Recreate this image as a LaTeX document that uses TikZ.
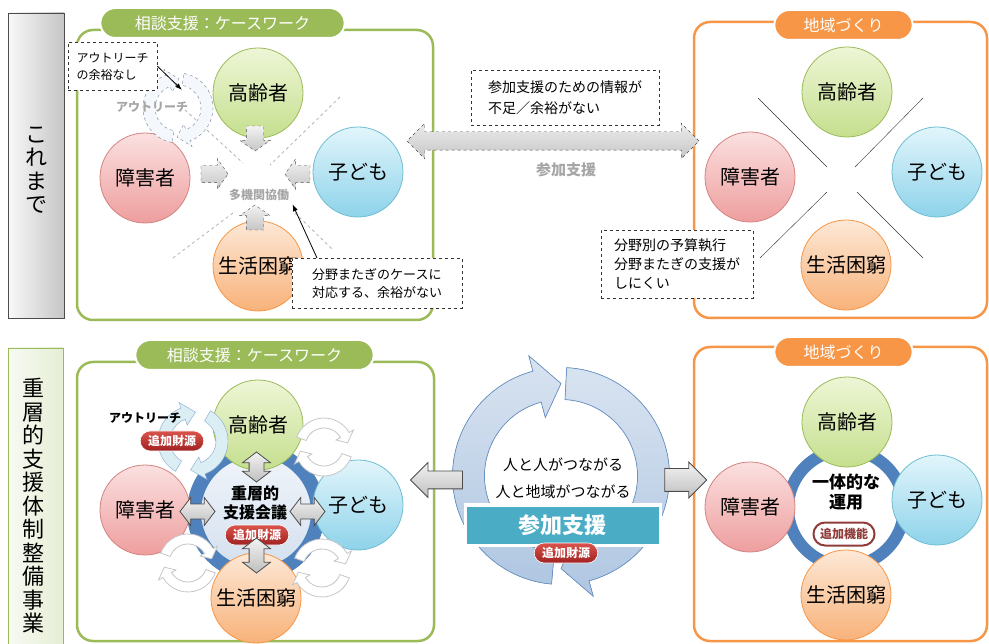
\documentclass[tikz,border=0pt]{standalone}
\usepackage{fontspec}
\setmainfont{Noto Sans CJK JP}
\usetikzlibrary{arrows.meta,shapes.arrows,shapes.misc,calc}
\definecolor{kgreen}{HTML}{9BBB59}
\definecolor{korange}{HTML}{F79646}
\definecolor{kblue}{HTML}{4F81BD}
\definecolor{kteal}{HTML}{4BACC6}
\definecolor{kred}{HTML}{C0504D}
\definecolor{eldertop}{HTML}{EEF6D6}
\definecolor{elderbot}{HTML}{C5DF8E}
\definecolor{distop}{HTML}{FBE0E0}
\definecolor{disbot}{HTML}{EE9E9E}
\definecolor{childtop}{HTML}{E2F5FB}
\definecolor{childbot}{HTML}{8ED3EA}
\definecolor{poortop}{HTML}{FDE8D6}
\definecolor{poorbot}{HTML}{F8B27A}
\definecolor{fundtop}{HTML}{D9534B}
\definecolor{fundbot}{HTML}{A02222}
\colorlet{darkred}{kred!75!black}
\newcommand{\fsz}[2]{\fontsize{#1}{#2}\selectfont}
% circular arrow: [style]{centre}{mid radius}{half width}{start}{end}{tip}
\newcommand{\carrow}[7][]{%
  \begin{scope}[shift={(#2)}]
    \filldraw[#1] ({#5}:{#3+#4}) arc[start angle=#5, end angle=#6, radius={#3+#4}]
      -- ({#6}:{#3+2*#4}) -- ({#7}:{#3}) -- ({#6}:{#3-2*#4}) -- ({#6}:{#3-#4})
      arc[start angle=#6, end angle=#5, radius={#3-#4}] -- cycle;
  \end{scope}}
\tikzset{
  >=latex,
  person/.style={circle, minimum size=90, inner sep=0, line width=0.8, font=\fsz{20}{22}},
  elder/.style={person, draw=kgreen, top color=eldertop, bottom color=elderbot},
  disabled/.style={person, draw=kred!70, top color=distop, bottom color=disbot},
  child/.style={person, draw=kteal!80, top color=childtop, bottom color=childbot},
  poor/.style={person, draw=korange, top color=poortop, bottom color=poorbot},
  panel/.style={draw=#1, line width=2.5, rounded corners=16},
  tab/.style={rounded rectangle, fill=#1, draw=white, line width=2, text=white, minimum height=30, font=\fsz{16}{18}},
  sidebox/.style={draw=#1, line width=0.8},
  sidetext/.style={align=center, font=\fsz{22}{23.5}},
  note/.style={draw=black!80, dashed, fill=white, align=left, anchor=north west, inner sep=5},
  pointer/.style={-{Latex[length=7,width=5]}, thick, black},
  hint/.style={text=gray!70, font=\bfseries\fsz{12}{14}},
  dasharrow/.style={single arrow, inner sep=0, inner ysep=8.5, single arrow head extend=6.5, single arrow tip angle=110,
    draw=black!70, dashed, top color=gray!10, bottom color=gray!45},
  flowarrow/.style={single arrow, inner sep=0, single arrow tip angle=90, draw=gray!60!black, line width=0.8,
    top color=gray!10, bottom color=gray!50},
  linkarrow/.style={double arrow, inner sep=0, inner ysep=7, double arrow head extend=6.5, double arrow tip angle=105,
    draw=gray!60!black, line width=0.8, top color=gray!10, bottom color=gray!50},
  fund/.style={rounded rectangle, top color=fundtop, bottom color=fundbot, draw=white, line width=0.6, text=white,
    font=\bfseries\fsz{12}{14}, minimum height=20, inner xsep=6, inner ysep=0},
  addtag/.style={rounded rectangle, fill=white, draw=darkred, line width=2, text=darkred,
    font=\bfseries\fsz{12}{14}, minimum height=23, inner xsep=5, inner ysep=0},
  refresh/.style={draw=gray!45, fill=white, line width=0.8},
  cycle arrow/.style={draw=kblue!85, line width=0.7, top color=kblue!22, bottom color=kblue!45}
}
\begin{document}
\begin{tikzpicture}[x=1pt, y=-1pt]
  \useasboundingbox (0,0) rectangle (989,644);

  % side labels
  \draw[sidebox=black!70, left color=gray!5, right color=gray!45] (8,13) rectangle (64,318);
  \node[sidetext] (past) at (36,170) {こ\\れ\\ま\\で};
  \draw[sidebox=kgreen, left color=kgreen!8, right color=kgreen!25] (8,348) rectangle (63,660);
  \node[sidetext] (project) at (34,506) {重\\層\\的\\支\\援\\体\\制\\整\\備\\事\\業};

  % panels
  \draw[panel=kgreen] (77,30) rectangle (433,320);
  \draw[panel=korange] (694,22) rectangle (987,318);
  \draw[panel=kgreen] (77,362) rectangle (434,641);
  \draw[panel=korange] (694,347) rectangle (987,641);
  \node[tab=kgreen, minimum width=251] (tl-tab) at (222.5,23) {相談支援：ケースワーク};
  \node[tab=korange, minimum width=145] (tr-tab) at (843.5,25) {地域づくり};
  \node[tab=kgreen, minimum width=245] (bl-tab) at (254.5,355) {相談支援：ケースワーク};
  \node[tab=korange, minimum width=145] (br-tab) at (843.5,352) {地域づくり};

  % top left: case work so far
  \draw[gray!60, dashed, thick] (185,110) -- (243,163) (295,213) -- (333,250)
    (340,97) -- (270,165) (233,213) -- (173,258);
  \node[elder] (tl-elder) at (258,93) {高齢者};
  \node[disabled] (tl-dis) at (145,178) {障害者};
  \node[child] (tl-child) at (358,172) {子ども};
  \node[poor] (tl-poor) at (258,266) {生活困窮};
  \carrow[draw=gray!70!kblue, dashed, fill=kblue!6]{178,108}{29}{6}{100}{250}{272}
  \carrow[draw=gray!70!kblue, dashed, fill=kblue!6]{178,108}{29}{6}{280}{430}{452}
  \node[dasharrow, rotate=-90, minimum height=25] (tl-a1) at (255,135.5) {};
  \node[dasharrow, minimum height=27] (tl-a2) at (211.5,174) {};
  \node[dasharrow, rotate=180, minimum height=25] (tl-a3) at (300.5,174) {};
  \node[dasharrow, rotate=90, minimum height=25] (tl-a4) at (255,220.5) {};
  \node[hint] (tl-mac) at (259,195) {多機関協働};
  \node[hint] (tl-reach) at (152,107) {アウトリーチ};
  \coordinate (tl-ring) at (182,90);
  \node[note, minimum width=89, minimum height=48, font=\fsz{12}{17}] (noteA) at (68,42) {アウトリーチ\\の余裕なし};
  \draw[pointer] (noteA.east) -- (tl-ring);
  \node[note, minimum width=170, minimum height=50, font=\fsz{13}{18}] (noteB) at (292,258) {分野またぎのケースに\\対応する、余裕がない};
  \draw[pointer] ($(noteB.north west)+(25,0)$) -- (tl-mac.south east);

  % top middle
  \node[double arrow, dashed, draw=black!70, top color=gray!15, bottom color=gray!45, inner sep=0, inner ysep=9,
    double arrow head extend=8.5, double arrow tip angle=90, minimum height=292] (tm-arrow) at (553,141) {};
  \node[hint, font=\bfseries\fsz{15}{17}] (tm-label) at (566,170) {参加支援};
  \node[note, minimum width=188, minimum height=55, font=\fsz{14}{21}] (noteC) at (471,70) {参加支援のための情報が\\不足／余裕がない};

  % top right: community so far
  \node[elder] (tr-elder) at (847,92) {高齢者};
  \node[disabled] (tr-dis) at (750,177) {障害者};
  \node[child] (tr-child) at (937,172) {子ども};
  \node[poor] (tr-poor) at (846,265) {生活困窮};
  \draw[black!80] (758,98) -- (827,167) (923,98) -- (855,167) (827,192) -- (760,258) (857,192) -- (923,258);
  \node[note, minimum width=152, minimum height=68, font=\fsz{14}{19}] (noteD) at (601,230) {分野別の予算執行\\分野またぎの支援が\\しにくい};

  % bottom left: layered support meeting
  \node[circle, draw=kblue, line width=14, top color=kblue!8, bottom color=kblue!25, minimum size=124] (bl-hub) at (256,512) {};
  \node[elder] (bl-elder) at (258,425) {高齢者};
  \node[disabled] (bl-dis) at (145,510) {障害者};
  \node[child] (bl-child) at (358,505) {子ども};
  \node[poor] (bl-poor) at (256,598) {生活困窮};
  \foreach \c in {{324,447},{188,563},{322,568}} {
    \carrow[refresh]{\c}{24}{5}{200}{330}{350}
    \carrow[refresh]{\c}{24}{5}{20}{150}{170}
  }
  \carrow[draw=kblue!70, fill=kteal!20]{193,441}{29}{6}{120}{250}{275}
  \carrow[draw=kblue!70, fill=kteal!20]{193,441}{29}{6}{300}{430}{455}
  \node[font=\bfseries\fsz{12}{14}] (bl-reach) at (145,418) {アウトリーチ};
  \node[fund] (bl-fund2) at (172,441) {追加財源};
  \node[font=\bfseries\fsz{16}{19}, align=center] (bl-meet) at (255,503) {重層的\\支援会議};
  \node[fund] (bl-fund) at (257,535) {追加財源};
  \node[linkarrow, rotate=90, minimum height=30] (bl-a1) at (256.5,467) {};
  \node[linkarrow, rotate=90, minimum height=35] (bl-a2) at (256.5,555.5) {};
  \node[linkarrow, minimum height=35] (bl-a3) at (197.5,511.5) {};
  \node[linkarrow, minimum height=35] (bl-a4) at (307.5,511.5) {};

  % bottom middle: participation cycle
  \carrow[cycle arrow]{561,476}{92.5}{16}{95}{255}{270}
  \carrow[cycle arrow]{561,476}{92.5}{16}{273}{435}{450}
  \node[font=\fsz{15}{27}, align=center] (bm-text) at (563,478) {人と人がつながる\\人と地域がつながる};
  \node[draw=white, line width=3, fill=kteal, minimum width=195, minimum height=40, text=white,
    font=\bfseries\fsz{22}{24}] (bm-join) at (562.5,525) {参加支援};
  \node[fund] (bm-fund) at (566,553) {追加財源};
  \node[flowarrow, rotate=180, minimum height=52, inner ysep=8.5, single arrow head extend=8.5] (bm-left) at (441,480) {};
  \node[flowarrow, minimum height=42, inner ysep=11, single arrow head extend=6.5] (bm-right) at (680,480) {};

  % bottom right: integrated community
  \node[circle, draw=kblue, line width=12, fill=white, minimum size=116] (br-hub) at (846,508) {};
  \node[elder] (br-elder) at (847,422) {高齢者};
  \node[disabled] (br-dis) at (750,507) {障害者};
  \node[child] (br-child) at (937,500) {子ども};
  \node[poor] (br-poor) at (846,595) {生活困窮};
  \node[font=\bfseries\fsz{17}{20}, align=center] (br-unify) at (846,492) {一体的な\\運用};
  \node[addtag] (br-tag) at (844,534) {追加機能};
\end{tikzpicture}
\end{document}
